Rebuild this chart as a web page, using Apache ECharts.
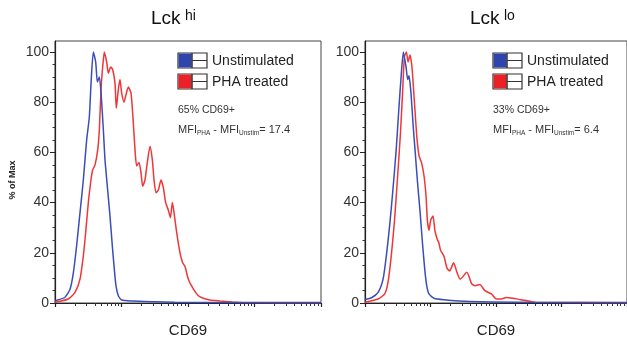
<!DOCTYPE html>
<html>
<head>
<meta charset="utf-8">
<script src="https://cdn.jsdelivr.net/npm/echarts@6/dist/echarts.min.js"></script>
<style>html,body{margin:0;padding:0;background:#fff}#c{width:627px;height:343px}</style>
</head>
<body>
<div id="c"></div>
<script>
// ---- data (x = log10 CD69 fluorescence, y = % of max) ----
const panelTitles = ['hi', 'lo'];
const seriesNames = ['Unstimulated', 'PHA treated'];
const seriesColors = ['#3a4db8', '#f03636'];
const legendFill = ['#2f45ad', '#ec2127'];
const pctCD69 = ['65% CD69+', '33% CD69+'];
const mfiDiff = ['17.4', '6.4'];
const yTickLabels = [0, 20, 40, 60, 80, 100];
const xDecades = [1, 2, 3, 4, 5];

const hiUnstim = [[1.0,0.9],[1.15,2.3],[1.226,5.5],[1.276,12],[1.326,23],[1.376,36],[1.426,49],[1.476,65],[1.516,74],[1.541,87],[1.576,100],[1.612,96],[1.637,88],[1.667,90],[1.692,84],[1.727,69],[1.752,57],[1.792,45],[1.827,34.6],[1.862,22.7],[1.892,13.5],[1.917,6.9],[1.952,2.9],[2.003,1.2],[2.153,0.8],[2.5,0.5],[2.8,0.3],[3.5,0.2],[5.0,0.2]];
const hiPha = [[1.0,0.3],[1.2,1.6],[1.301,4.2],[1.376,9.5],[1.426,18.8],[1.461,28],[1.501,40],[1.541,49],[1.566,53],[1.602,55],[1.642,61],[1.667,69],[1.692,85],[1.717,94],[1.742,100],[1.777,96],[1.802,91.5],[1.837,94],[1.867,93],[1.902,87.6],[1.922,77.6],[1.952,85],[1.977,89],[2.003,83.6],[2.038,80],[2.068,83],[2.103,86],[2.143,83.6],[2.178,71.7],[2.203,61],[2.228,54.6],[2.263,56],[2.293,52],[2.318,46.5],[2.353,49],[2.388,56],[2.429,62.4],[2.464,57],[2.489,49],[2.519,43.9],[2.554,45],[2.594,49],[2.629,46],[2.664,40],[2.704,37],[2.735,34],[2.765,40],[2.79,36],[2.83,28],[2.88,20],[2.92,16],[2.955,14.5],[3.005,9.5],[3.08,5.6],[3.155,2.9],[3.23,1.9],[3.33,1.2],[3.48,0.8],[3.66,0.4],[3.8,0.2],[5.0,0.1]];
const loUnstim = [[1.0,1.4],[1.1,2.1],[1.2,4.2],[1.276,9.5],[1.326,18.8],[1.376,30.7],[1.426,45],[1.476,61],[1.516,77],[1.551,90],[1.586,100],[1.627,94],[1.652,89],[1.672,90.5],[1.702,83.6],[1.737,70],[1.767,60],[1.802,48],[1.842,36],[1.877,24],[1.912,13.5],[1.942,6.9],[1.977,3.6],[2.053,1.9],[2.203,1.3],[2.6,0.6],[3.5,0.3],[5.0,0.2]];
const loPha = [[1.0,0.3],[1.2,1.6],[1.301,3.6],[1.351,8.2],[1.401,18.8],[1.451,33],[1.501,51.6],[1.541,67.5],[1.576,85],[1.601,98],[1.632,100],[1.657,96],[1.687,98.8],[1.717,94],[1.752,81],[1.792,66],[1.827,58.4],[1.862,56],[1.902,50.5],[1.932,42.5],[1.952,33],[1.977,29],[2.003,33],[2.038,34.7],[2.068,28.7],[2.103,25.4],[2.128,24],[2.153,21],[2.203,18.8],[2.253,13.8],[2.293,12.8],[2.353,16],[2.404,12.2],[2.454,9.5],[2.554,12.2],[2.629,7.6],[2.679,6.9],[2.754,7.4],[2.83,4.9],[2.93,3.6],[3.005,1.6],[3.08,1.6],[3.155,2.2],[3.256,1.9],[3.381,1.3],[3.481,0.9],[3.6,0.3],[5.0,0.1]];
const panelData = [[hiUnstim, hiPha], [loUnstim, loPha]];

// ---- build ----
const FONT = '"Liberation Sans", Arial, sans-serif';
const YMAX = 104.37;
const xMinor = [];
for (let n = 1; n < 5; n++) for (let k = 2; k <= 9; k++) xMinor.push(+(n + Math.log10(k)).toFixed(4));
const yMinor = [];
for (let v = 5; v < 100; v += 5) if (v % 20) yMinor.push(v);

const grids = [
  {left: 55, top: 41, width: 266, height: 263, show: true, borderColor: '#444', borderWidth: 1},
  {left: 365, top: 41, width: 266, height: 263, show: true, borderColor: '#444', borderWidth: 1}
];
const xAxes = [], yAxes = [], series = [];
grids.forEach((g, gi) => {
  xAxes.push({type: 'value', gridIndex: gi, position: 'bottom', min: 1, max: 5,
    name: 'CD69', nameLocation: 'middle', nameGap: 20,
    nameTextStyle: {fontFamily: FONT, fontSize: 15, color: '#222'},
    axisLine: {onZero: false, lineStyle: {color: '#222', width: 1.2}},
    axisTick: {show: true, customValues: xDecades, length: 4, lineStyle: {color: '#222', width: 1.2}},
    axisLabel: {show: false}, splitLine: {show: false}});
  xAxes.push({type: 'value', gridIndex: gi, position: 'bottom', offset: 0, min: 1, max: 5,
    axisLine: {show: false, onZero: false},
    axisTick: {show: true, customValues: xMinor, length: 3, lineStyle: {color: '#333', width: 1}},
    axisLabel: {show: false}, splitLine: {show: false}});
  yAxes.push({type: 'value', gridIndex: gi, position: 'left', min: 0, max: YMAX,
    axisLine: {onZero: false, lineStyle: {color: '#222', width: 1.2}},
    axisTick: {customValues: yTickLabels, length: 5, lineStyle: {color: '#222'}},
    axisLabel: {customValues: yTickLabels, margin: 6, fontFamily: FONT, fontSize: 14, color: '#333'},
    splitLine: {show: false}});
  yAxes.push({type: 'value', gridIndex: gi, position: 'left', offset: 0, min: 0, max: YMAX,
    axisLine: {show: false, onZero: false},
    axisTick: {customValues: yMinor, length: 2.5, lineStyle: {color: '#333'}},
    axisLabel: {show: false}, splitLine: {show: false}});
  // red (PHA) first, blue on top
  [1, 0].forEach(si => {
    series.push({type: 'line', name: seriesNames[si], xAxisIndex: gi * 2, yAxisIndex: gi * 2,
      data: panelData[gi][si], showSymbol: false, smooth: 0.2,
      lineStyle: {color: seriesColors[si], width: 1.5}, z: 3 + (1 - si)});
  });
});

function panelGraphics(gi, lx, tx) {
  const els = [];
  els.push({type: 'text', x: tx, y: 9, style: {
    text: 'Lck', fontFamily: FONT, fontSize: 19, fill: '#111', verticalAlign: 'top'}});
  els.push({type: 'text', x: tx + 34, y: 9, style: {
    text: panelTitles[gi], fontFamily: FONT, fontSize: 14, fill: '#111', verticalAlign: 'top'}});
  seriesNames.forEach((nm, i) => {
    const y = 53 + i * 21;
    els.push({type: 'rect', shape: {x: lx, y: y, width: 29, height: 15}, style: {fill: '#fff', stroke: '#333', lineWidth: 1.2}, z: 10});
    els.push({type: 'rect', shape: {x: lx + 0.6, y: y + 0.6, width: 13, height: 13.8}, style: {fill: legendFill[i]}, z: 11});
    els.push({type: 'line', shape: {x1: lx + 14, y1: y, x2: lx + 14, y2: y + 15}, style: {stroke: '#333', lineWidth: 1.5}, z: 11});
    els.push({type: 'line', shape: {x1: lx + 14, y1: y + 7.5, x2: lx + 29, y2: y + 7.5}, style: {stroke: '#333', lineWidth: 1}, z: 11});
    els.push({type: 'text', x: lx + 34, y: y + 8, style: {text: nm, fontFamily: FONT, fontSize: 14, fill: '#222', verticalAlign: 'middle'}, z: 11});
  });
  els.push({type: 'text', x: lx, y: 110, style: {text: pctCD69[gi], fontFamily: FONT, fontSize: 10.5, fill: '#333', verticalAlign: 'middle'}, z: 11});
  els.push({type: 'text', x: lx, y: 124, style: {
    text: '{a|MFI}{s|PHA}{a| - MFI}{s|Unstim}{a|= ' + mfiDiff[gi] + '}', fontFamily: FONT, fill: '#333',
    rich: {a: {fontSize: 11, lineHeight: 13, verticalAlign: 'top', fontFamily: FONT, fill: '#333'},
           s: {fontSize: 6.5, lineHeight: 8, verticalAlign: 'bottom', fontFamily: FONT, fill: '#333'}}}, z: 11});
  return els;
}

const graphic = [].concat(panelGraphics(0, 178, 151), panelGraphics(1, 493, 470));
graphic.push({type: 'text', x: 13, y: 180, rotation: Math.PI / 2, style: {
  text: '% of Max', fontFamily: FONT, fontSize: 9, fontWeight: 'bold', fill: '#222', align: 'center', verticalAlign: 'middle'}});

const chart = echarts.init(document.getElementById('c'), null, {renderer: 'canvas'});
chart.setOption({animation: false, backgroundColor: '#fff', grid: grids, xAxis: xAxes, yAxis: yAxes, series: series, graphic: graphic});
</script>
</body>
</html>
